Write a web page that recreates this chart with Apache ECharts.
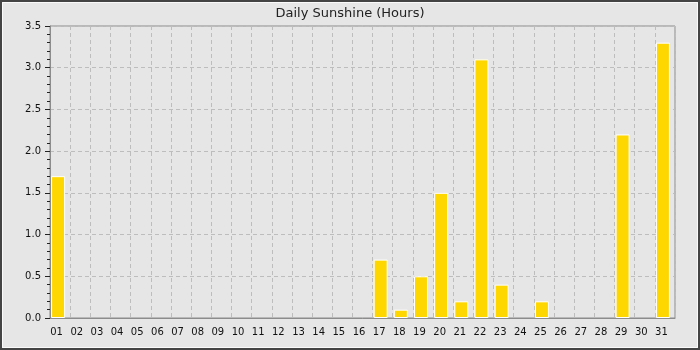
<!DOCTYPE html>
<html>
<head>
<meta charset="utf-8">
<script src="https://cdn.jsdelivr.net/npm/echarts@6/dist/echarts.min.js"></script>
<style>
html,body{margin:0;padding:0;background:#e6e6e6;}
#chart{width:700px;height:350px;}
</style>
</head>
<body>
<div id="chart"></div>
<script>
const days = ['01','02','03','04','05','06','07','08','09','10','11','12','13','14','15','16','17','18','19','20','21','22','23','24','25','26','27','28','29','30','31'];
const sunshine = [1.7,0,0,0,0,0,0,0,0,0,0,0,0,0,0,0,0.7,0.1,0.5,1.5,0.2,3.1,0.4,0,0.2,0,0,0,2.2,0,3.3];
const yTicks = [0,0.5,1.0,1.5,2.0,2.5,3.0,3.5];
const spacer = days.map(() => null);
// zero-hour days draw no bar at all
const barData = sunshine.map(v => (v === 0 ? null : v));

const chart = echarts.init(document.getElementById('chart'), null, {renderer:'canvas'});
const gridCol = '#bdbdbd';
chart.setOption({
  animation: false,
  backgroundColor: '#e6e6e6',
  textStyle: {fontFamily: 'DejaVu Sans'},
  title: {
    text: 'Daily Sunshine (Hours)',
    left: 'center',
    top: 2,
    textStyle: {fontFamily: 'DejaVu Sans', fontSize: 13, fontWeight: 'normal', color: '#222'}
  },
  graphic: [
    {type:'rect', shape:{x:1,y:1,width:698,height:348}, style:{fill:null, stroke:'#444', lineWidth:2}, silent:true, z:100},
    {type:'rect', shape:{x:2.5,y:2.5,width:695,height:345}, style:{fill:null, stroke:'#fafafa', lineWidth:1}, silent:true, z:100}
  ],
  grid: {left:50, right:25, top:26, bottom:32, show:true, borderColor:'#8c8c8c', borderWidth:1, backgroundColor:'#e6e6e6'},
  xAxis: {
    type:'category',
    data: days,
    boundaryGap: true,
    axisLine: {lineStyle:{color:'#8c8c8c', width:1}},
    axisTick: {show:false},
    axisLabel: {color:'#111', fontSize:10, margin:9, padding:[0,7,0,0], interval:0},
    splitLine: {show:true, lineStyle:{color:gridCol, type:[4,3], width:1}}
  },
  yAxis: {
    type:'value',
    min: yTicks[0],
    max: yTicks[yTicks.length-1],
    interval: 0.5,
    axisLine: {show:true, lineStyle:{color:'#8c8c8c', width:1}},
    axisTick: {show:true, length:5, lineStyle:{color:'#222'}},
    minorTick: {show:true, splitNumber:5, length:3, lineStyle:{color:'#222'}},
    axisLabel: {color:'#111', fontSize:10, margin:9, formatter: v => v.toFixed(1)},
    splitLine: {show:true, lineStyle:{color:gridCol, type:[4,3], width:1}}
  },
  series: [
    {
      type:'bar',
      data: barData,
      barWidth: 14,
      barGap: '0%',
      itemStyle: {color:'#ffd700', borderColor:'#ffffff', borderWidth:1},
      silent: true
    },
    {
      type:'bar',
      data: spacer,
      barWidth: 4,
      barGap: '0%',
      itemStyle: {color:'rgba(0,0,0,0)'},
      silent: true
    }
  ]
});
</script>
</body>
</html>
